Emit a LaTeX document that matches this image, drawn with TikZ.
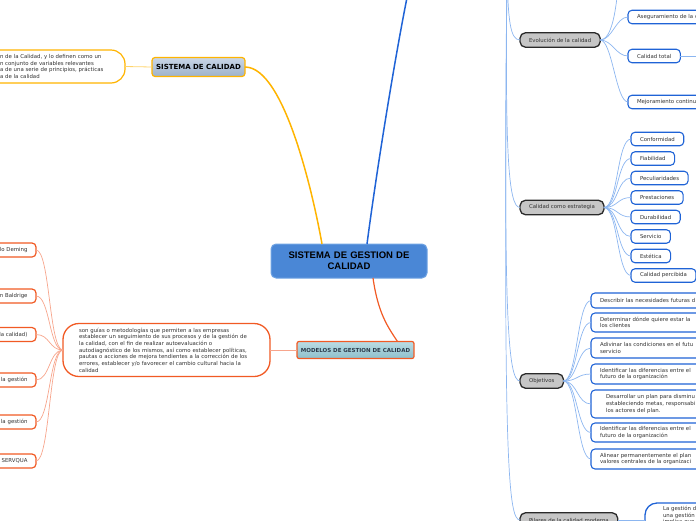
\documentclass[tikz,border=0pt]{standalone}
\usepackage{fontspec}
\setmainfont{DejaVu Sans}
\newfontfamily\libsans{Liberation Sans}
\definecolor{cblue}{HTML}{4A87D6}
\definecolor{cblueb}{HTML}{6FA3E3}
\definecolor{ylw}{HTML}{FFB400}
\definecolor{ylwl}{HTML}{FFD46B}
\definecolor{org}{HTML}{F15A24}
\definecolor{orgl}{HTML}{F7A58C}
\definecolor{bdk}{HTML}{1F63D6}
\definecolor{blt}{HTML}{8CB6F0}
\definecolor{gfill}{HTML}{C6C6C6}
\definecolor{gline}{HTML}{2A2A2A}
\definecolor{txt}{HTML}{333333}
\definecolor{modtop}{HTML}{BADCE4}
\definecolor{modbot}{HTML}{8EBFCB}
\definecolor{sdctop}{HTML}{C9D6E6}
\definecolor{sdcbot}{HTML}{9DB2CB}
\definecolor{modtxt}{HTML}{2B3A4A}
\newcommand\fsm{\fontsize{5.4}{6.7}\selectfont}
\begin{document}
\begin{tikzpicture}[x=1pt,y=-1pt,
  every node/.style={inner sep=0pt, outer sep=0pt, text=txt},
  bleaf/.style={draw=bdk, line width=1.1pt, fill=white, rounded corners=4pt, font=\fsm, inner xsep=9pt, minimum height=13.5pt, anchor=west},
  bwide/.style={bleaf, text width=130pt, align=left},
  gnode/.style={draw=gline, line width=1.3pt, fill=gfill, rounded corners=5.5pt, font=\fsm, minimum height=14.5pt, anchor=west, inner xsep=9pt},
  oleaf/.style={draw=org, line width=1.2pt, fill=white, rounded corners=4pt, font=\fsm, minimum height=14pt, anchor=east, inner xsep=8.5pt, text width=60pt, align=right},
  lbl/.style={draw=blt, line width=0.7pt},
  olk/.style={draw=orgl, line width=0.7pt},
]
\useasboundingbox (0,0) rectangle (696,520);
\clip (0,0) rectangle (696,520);

% ---------- central ----------
\node[fill=cblue, draw=cblueb, line width=1pt, rounded corners=5pt, minimum width=156pt, minimum height=34pt, text width=150pt, align=center, text=black, font=\libsans\bfseries\fontsize{9.5}{11}\selectfont] (c) at (349,261) {SISTEMA DE GESTION DE\\CALIDAD};

% ---------- yellow branch ----------
\node[draw=ylw, line width=1.2pt, top color=sdctop, bottom color=sdcbot, rounded corners=3pt, minimum width=93pt, minimum height=19pt, text=black, font=\bfseries\fontsize{7}{8}\selectfont] (sdc) at (198.5,67) {SISTEMA DE CALIDAD};
\node[draw=ylw, line width=1.2pt, fill=white, rounded corners=14pt, anchor=east, text width=105pt, inner xsep=20pt, minimum height=33pt, align=left, font=\fsm] (tl) at (125,66.5) {n de la Calidad, y lo definen como un\\n conjunto de variables relevantes\\a de una serie de principios, prácticas\\a de la calidad};
\draw[draw=ylw, line width=1.5pt] (sdc.east) .. controls +(40,0) and +(-8,-45) .. ([xshift=-27pt]c.north);
\draw[draw=ylwl, line width=0.8pt] (sdc.west) -- (tl.east);

% ---------- orange branch ----------
\node[draw=org, line width=1.2pt, top color=modtop, bottom color=modbot, rounded corners=2pt, minimum width=117pt, minimum height=17pt, text=modtxt, font=\bfseries\fontsize{5.5}{6.5}\selectfont] (mod) at (355.5,350) {MODELOS DE GESTION DE CALIDAD};
\node[draw=org, line width=1.3pt, fill=white, rounded corners=16pt, anchor=east, text width=175pt, inner xsep=16pt, minimum height=53pt, align=left, font=\fsm] (big) at (270,350) {son guías o metodologías que permiten a las empresas\\establecer un seguimiento de sus procesos y de la gestión de\\la calidad, con el fin de realizar autoevaluación o\\autodiagnóstico de los mismos, así como establecer políticas,\\pautas o acciones de mejora tendientes a la corrección de los\\errores, establecer y/o favorecer el cambio cultural hacia la\\calidad};
\draw[draw=org, line width=1.2pt] ([xshift=24pt]c.south) .. controls +(5,35) and +(-10,-15) .. ([xshift=42pt]mod.north);
\draw[olk] (mod.west) -- (big.east);

\node[oleaf] (l1) at (36,250) {lo Deming};
\node[oleaf] (l2) at (36,296) {n Baldrige};
\node[oleaf] (l3) at (36,334.5) {la calidad)};
\node[oleaf] (l4) at (36,380) {la gestión};
\node[oleaf] (l5) at (36,422) {la gestión};
\node[oleaf] (l6) at (36,461) {SERVQUA};
\foreach \n in {l1,l2,l3,l4,l5,l6}
  \draw[olk] (big.west) .. controls +(-14,0) and +(14,0) .. (\n.east);

% ---------- blue branch ----------
\coordinate (topb) at (409,-12);
\draw[draw=bdk, line width=1.5pt] ([xshift=18pt]c.north) .. controls (378,160) and (398,40) .. (topb);

\coordinate (rtop) at (507,-30);
\node[gnode] (evo) at (520,40) {Evolución de la calidad};
\node[gnode] (cce) at (520,207.5) {Calidad como estrategia};
\node[gnode] (obj) at (520,381) {Objetivos};
\node[gnode] (pil) at (520,520) {Pilares de la calidad moderna};
\draw[lbl] (rtop) .. controls (508,20) and (510,40) .. (evo.west);
\draw[lbl] (rtop) .. controls (505,150) and (508,207.5) .. (cce.west);
\draw[lbl] (rtop) .. controls (503,320) and (508,381) .. (obj.west);
\draw[lbl] (rtop) .. controls (503,460) and (508,520) .. (pil.west);

% Evolucion children
\coordinate (evtop) at (618,-12);
\coordinate (ctr) at (700,56);
\node[bwide] (ase) at (628,17) {Aseguramiento de la c};
\node[bleaf] (ct) at (628,56) {Calidad total};
\node[bwide] (mej) at (628,102) {Mejoramiento continu};
\draw[lbl] (evo.east) .. controls +(12,0) and +(-2,20) .. (evtop);
\foreach \n in {ase,ct,mej}
  \draw[lbl] (evo.east) .. controls +(12,0) and +(-12,0) .. (\n.west);
\draw[lbl] (ct.east) -- (ctr);

% Calidad como estrategia children
\node[bleaf] (s1) at (631,139) {Conformidad};
\node[bleaf] (s2) at (631,158.5) {Fiabilidad};
\node[bleaf] (s3) at (631,178) {Peculiaridades};
\node[bleaf] (s4) at (631,197.5) {Prestaciones};
\node[bleaf] (s5) at (631,217) {Durabilidad};
\node[bleaf] (s6) at (631,236.5) {Servicio};
\node[bleaf] (s7) at (631,256) {Estética};
\node[bleaf] (s8) at (631,275.5) {Calidad percibida};
\foreach \n in {s1,s2,s3,s4,s5,s6,s7,s8}
  \draw[lbl] (cce.east) .. controls +(14,0) and +(-14,0) .. (\n.west);

% Objetivos children
\node[bwide, minimum height=15pt] (o1) at (591,300.5) {Describir las necesidades futuras d};
\node[bwide, minimum height=19pt] (o2) at (591,322.5) {Determinar dónde quiere estar la\\los clientes};
\node[bwide, minimum height=20pt] (o3) at (591,348) {Adivinar las condiciones en el futu\\servicio};
\node[bwide, minimum height=20pt] (o4) at (591,374) {Identificar las diferencias entre el\\futuro de la organización};
\node[bwide, minimum height=28pt, inner xsep=15pt] (o5) at (591,404) {Desarrollar un plan para disminu\\estableciendo metas, responsabi\\los actores del plan.};
\node[bwide, minimum height=19pt] (o6) at (591,432.5) {Identificar las diferencias entre el\\futuro de la organización};
\node[bwide, minimum height=20pt] (o7) at (591,459) {Alinear permanentemente el plan\\valores centrales de la organizaci};
\foreach \n in {o1,o2,o3,o4,o5,o6,o7}
  \draw[lbl] (obj.east) .. controls +(14,0) and +(-14,0) .. (\n.west);

% Pilares child
\node[draw=bdk, line width=1.3pt, fill=white, rounded corners=12pt, anchor=north west, text width=80pt, inner xsep=18pt, inner ysep=3pt, text depth=28pt, align=left, font=\fsm] (plc) at (645,503) {La gestión d\\una gestión\\implica que};
\draw[lbl] (pil.east) -- (plc.west |- pil.east);
\end{tikzpicture}
\end{document}
